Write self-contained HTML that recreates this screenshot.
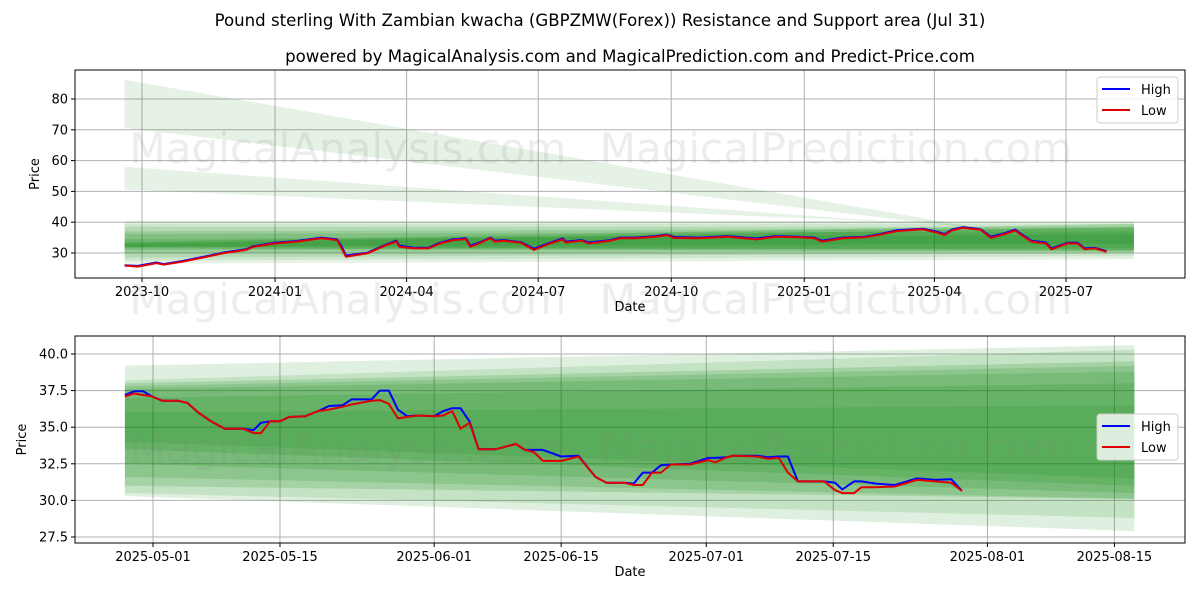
<!DOCTYPE html>
<html><head><meta charset="utf-8"><style>
body{margin:0;background:#fff;}
svg{display:block;font-family:"DejaVu Sans","Liberation Sans",sans-serif;}
</style></head><body>
<svg id="c" width="1200" height="600" viewBox="0 0 1200 600">
<rect width="1200" height="600" fill="#fff"/>
<text x="600" y="26" text-anchor="middle" font-size="16.6">Pound sterling With Zambian kwacha (GBPZMW(Forex)) Resistance and Support area (Jul 31)</text>
<text x="630" y="62" text-anchor="middle" font-size="16.6">powered by MagicalAnalysis.com and MagicalPrediction.com and Predict-Price.com</text>
</svg>
<script>
// ---- top chart data (day offset from 2023-10-01) ----
const topDays=[-12,-3,10,15,28,45,57,72,77,92,107,124,135,138,141,156,169,176,178,188,198,206,215,224,227,233,241,244,250,262,271,282,291,293,304,309,324,331,341,355,363,368,385,405,425,438,455,465,470,485,500,510,522,540,550,555,560,568,580,587,595,604,607,615,625,629,640,647,652,659,667];
const topLow=[25.9,25.6,26.7,26.2,27.2,28.8,30,31,32,33.1,33.7,34.8,34.2,31.6,28.8,29.9,32.6,33.7,32,31.5,31.5,33.1,34.2,34.5,32,33.1,34.8,33.7,34,33.3,31,33.1,34.4,33.4,34,33.1,34,34.8,34.8,35.3,35.8,34.9,34.8,35.3,34.4,35.3,35.1,34.8,33.7,34.8,35.1,35.9,37.1,37.7,36.6,35.8,37.3,38.2,37.5,34.9,35.9,37.3,36.2,33.7,33.1,31.2,33.1,33.1,31.2,31.5,30.4];
const topHigh=[26.0,25.8,26.9,26.4,27.4,29.0,30.2,31.2,32.2,33.3,33.9,35.0,34.4,32.2,29.2,30.1,32.8,34.0,32.4,31.7,31.7,33.3,34.4,34.8,32.4,33.3,35.0,34.0,34.2,33.5,31.4,33.3,34.7,33.7,34.2,33.4,34.2,35.0,35.0,35.5,36.0,35.2,35.0,35.5,34.7,35.5,35.3,35.0,34.0,35.0,35.3,36.1,37.4,37.9,36.9,36.1,37.6,38.4,37.7,35.3,36.2,37.6,36.5,34.0,33.4,31.5,33.3,33.3,31.5,31.7,30.6];
const topTicks=["2023-10","2024-01","2024-04","2024-07","2024-10","2025-01","2025-04","2025-07"];
const topTickDays=[0,92,183,274,366,458,548,639];
const topYTicks=[30,40,50,60,70,80];
const topBandStartDay=-12, topBandEndDay=686;
const topBandTop0=[40.5,39.5,38.5,37,36.2,34.5,33.5,33.0];
const topBandBot0=[26.5,27.5,28.5,30,31,32,31.5,32.0];
const topBandTop1=[40.3,39.5,38.5,38,37,36,39.5,38.5];
const topBandBot1=[28.0,29.0,30,30.5,31.5,33,30.5,31.0];
const topBandAlpha=[0.1,0.1,0.12,0.15,0.15,0.15,0.2,0.2];
const topWedgeTop=[86.2,58], topWedgeBot=[70.6,50.6], topWedgeEndDay=[593,524], topWedgeEndVal=[37,40];

// ---- bottom chart data (day offset from 2025-05-01) ----
const botDays=[-3.1,-2.1,-1.1,-0.1,1.05,2.8,3.8,5,6.4,7.9,9.9,11.1,11.9,12.9,14,15,16.8,18.2,19.4,20.9,21.9,24.1,25,26,27,28,29.2,31,32,33,33.9,34.9,35.9,37.8,40,41,42,43,45,46.9,48.8,50,51,52,53,54,55,56,57.1,59.2,61.2,62,63.3,64,66.6,67.8,69,70,71.1,74,75.2,76,77.3,78.1,79.7,81.8,84.2,86.3,88,89.2];
const botHigh=[37.2,37.45,37.45,37.1,36.8,36.8,36.65,36.0,35.4,34.9,34.9,34.8,35.3,35.4,35.4,35.7,35.75,36.1,36.45,36.5,36.9,36.9,37.5,37.5,36.2,35.75,35.8,35.75,36.1,36.3,36.3,35.4,33.5,33.5,33.85,33.45,33.45,33.45,33.0,33.05,31.6,31.2,31.2,31.2,31.15,31.9,31.9,32.4,32.45,32.5,32.9,32.9,32.95,33.05,33.05,32.95,33.0,33.0,31.3,31.3,31.2,30.75,31.3,31.3,31.15,31.05,31.5,31.4,31.45,30.65];
const botLow=[37.1,37.3,37.2,37.1,36.8,36.8,36.65,36.0,35.4,34.9,34.9,34.6,34.6,35.4,35.4,35.7,35.75,36.1,36.2,36.4,36.55,36.8,36.85,36.6,35.6,35.7,35.8,35.75,35.8,36.1,34.9,35.3,33.5,33.5,33.85,33.45,33.3,32.7,32.7,33.0,31.6,31.2,31.2,31.2,31.05,31.05,31.9,31.9,32.45,32.45,32.75,32.6,32.95,33.05,33.0,32.85,32.9,31.9,31.3,31.3,30.7,30.5,30.5,30.9,30.9,30.95,31.4,31.3,31.2,30.65];
const botTicks=["2025-05-01","2025-05-15","2025-06-01","2025-06-15","2025-07-01","2025-07-15","2025-08-01","2025-08-15"];
const botTickDays=[0,14,31,45,61,75,92,106];
const botYTicks=[27.5,30.0,32.5,35.0,37.5,40.0];
const botBandStartDay=-3.1, botBandEndDay=108.2;
const botBandTop0=[39.2,38.2,38.0,37.8,37.6,37.0,36.0];
const botBandBot0=[30.3,30.5,31.0,31.6,32.5,33.5,34.0];
const botBandTop1=[40.6,40.3,39.5,39.2,38.8,38.0,36.5];
const botBandBot1=[27.9,28.8,30.1,30.1,30.5,31.0,31.5];
const botBandAlpha=[0.12,0.12,0.15,0.15,0.15,0.15,0.12];

const NS="http://www.w3.org/2000/svg";
const svg=document.getElementById('c');
function mk(tag,attrs,parent){const e=document.createElementNS(NS,tag);for(const k in attrs)e.setAttribute(k,attrs[k]);(parent||svg).appendChild(e);return e;}

function drawPanel(P){
  const g=mk('g',{});
  
  
  const X=P.x, Y=P.y;
  P.xTickDays.forEach((d,i)=>{
    const gl=mk('line',{x1:X(d),x2:X(d),y1:P.t,y2:P.b,stroke:'#b0b0b0','stroke-width':1},g);
    
    
    const tk=mk('line',{x1:X(d),x2:X(d),y1:P.b,y2:P.b+4,stroke:'#000'},g);
    
    
    const tx=mk('text',{x:X(d),y:P.b+18,'text-anchor':'middle','font-size':13},g);
    tx.textContent=P.xTicks[i];
    
    
  });
  P.yTicks.forEach(v=>{
    const gl=mk('line',{x1:P.l,x2:P.r,y1:Y(v),y2:Y(v),stroke:'#b0b0b0','stroke-width':1},g);
    
    
    const tk=mk('line',{x1:P.l-4,x2:P.l,y1:Y(v),y2:Y(v),stroke:'#000'},g);
    
    
    const tx=mk('text',{x:P.l-7,y:Y(v)+4.5,'text-anchor':'end','font-size':13},g);
    tx.textContent=P.yFmt(v);
    
    
  });
  (P.wedges||[]).forEach(w=>{
    const p=mk('polygon',{points:`${X(P.bs)},${Y(w[0])} ${X(P.bs)},${Y(w[1])} ${X(w[2])},${Y(w[3])}`,fill:'rgb(0,128,0)','fill-opacity':0.1},g);
    
    
  });
  P.bt0.forEach((v,i)=>{
    const p=mk('polygon',{points:`${X(P.bs)},${Y(P.bt0[i])} ${X(P.be)},${Y(P.bt1[i])} ${X(P.be)},${Y(P.bb1[i])} ${X(P.bs)},${Y(P.bb0[i])}`,fill:'rgb(0,128,0)','fill-opacity':P.ba[i]},g);
    
    
  });
  P.wm.forEach(w=>{
    const t=mk('text',{x:w[0],y:w[1],'text-anchor':'middle','font-size':42,fill:'#888','fill-opacity':0.15},g);
    t.textContent=w[2];
    
    
  });
  const ln=(arr,col,nm)=>{
    const pts=P.days.map((d,i)=>X(d).toFixed(1)+','+Y(arr[i]).toFixed(1)).join(' ');
    const pl=mk('polyline',{points:pts,fill:'none',stroke:col,'stroke-width':2,'stroke-linejoin':'round'},g);
    
    
  };
  ln(P.high,'#0000ff','high-line');
  ln(P.low,'#e00000','low-line');
  const fr=mk('rect',{x:P.l,y:P.t,width:P.r-P.l,height:P.b-P.t,fill:'none',stroke:'#000','stroke-width':1},g);
  
  
  const xl=mk('text',{x:(P.l+P.r)/2,y:P.b+33,'text-anchor':'middle','font-size':13},g);
  xl.textContent='Date';
  
  
  const yc=(P.t+P.b)/2;
  const yx=P.ytx;
  const yl=mk('text',{x:yx,y:yc,'text-anchor':'middle','font-size':13,transform:`rotate(-90 ${yx} ${yc})`},g);
  yl.textContent='Price';
  
  
  const lg=mk('g',{},g);
  
  
  mk('rect',{x:1097,y:P.lgy,width:81,height:46,rx:3,fill:'#fff','fill-opacity':0.8,stroke:'#ccc'},lg);
  [['High','#0000ff'],['Low','#e00000']].forEach((e,i)=>{
    const yy=P.lgy+12+i*21;
    const en=mk('g',{},lg);
    
    
    mk('line',{x1:1102,x2:1130,y1:yy,y2:yy,stroke:e[1],'stroke-width':2},en);
    const t=mk('text',{x:1141,y:yy+5,'font-size':13},en);
    t.textContent=e[0];
  });
}

drawPanel({name:'top-panel',l:75,r:1185,t:70,b:278,ytx:39,
  x:d=>142+d*1.446, y:v=>253-(v-30)*3.08,
  xTicks:topTicks,xTickDays:topTickDays,yTicks:topYTicks,yFmt:v=>String(v),
  days:topDays,high:topHigh,low:topLow,
  bs:topBandStartDay,be:topBandEndDay,bt0:topBandTop0,bb0:topBandBot0,bt1:topBandTop1,bb1:topBandBot1,ba:topBandAlpha,
  wedges:[[topWedgeTop[0],topWedgeBot[0],topWedgeEndDay[0],topWedgeEndVal[0]],[topWedgeTop[1],topWedgeBot[1],topWedgeEndDay[1],topWedgeEndVal[1]]],
  wm:[[348,163,'MagicalAnalysis.com'],[836,163,'MagicalPrediction.com'],[348,314,'MagicalAnalysis.com'],[836,314,'MagicalPrediction.com']],
  lgy:77});
drawPanel({name:'bottom-panel',l:75,r:1185,t:336,b:543,ytx:26,
  x:d=>153+d*9.07, y:v=>354+(40-v)*14.64,
  xTicks:botTicks,xTickDays:botTickDays,yTicks:botYTicks,yFmt:v=>v.toFixed(1),
  days:botDays,high:botHigh,low:botLow,
  bs:botBandStartDay,be:botBandEndDay,bt0:botBandTop0,bb0:botBandBot0,bt1:botBandTop1,bb1:botBandBot1,ba:botBandAlpha,
  wm:[[348,462,'MagicalAnalysis.com'],[836,462,'MagicalPrediction.com']],
  lgy:414});
</script>
</body></html>
